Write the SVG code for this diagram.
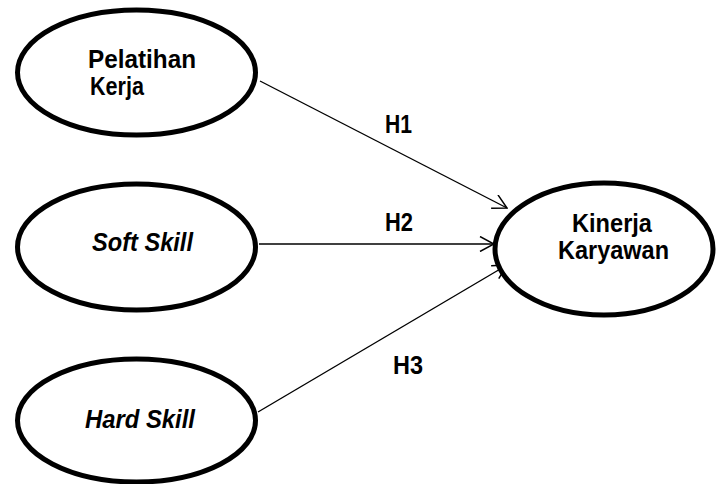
<svg xmlns="http://www.w3.org/2000/svg" width="716" height="484" viewBox="0 0 716 484">
  <style>
    .node ellipse { fill: #ffffff; stroke: #000000; stroke-width: 5; }
    .lbl { font-family: "Liberation Sans", Arial, sans-serif; font-weight: bold; font-size: 25px; fill: #000000; }
    .it { font-style: italic; }
    .edge { stroke: #000000; stroke-width: 1.4; fill: none; }
    .elbl { font-family: "Liberation Sans", Arial, sans-serif; font-weight: bold; font-size: 25px; fill: #000000; }
  </style>
  <defs>
    <marker id="arrow" viewBox="0 0 16 16" refX="15" refY="8" markerWidth="16" markerHeight="16" markerUnits="userSpaceOnUse" orient="auto">
      <path d="M1,0.5 L15,8 L1,15.5" fill="none" stroke="#000000" stroke-width="1.5"/>
    </marker>
  </defs>
  <rect width="716" height="484" fill="#ffffff"/>
  <g id="connectors">
    <line class="edge" x1="260" y1="81" x2="507" y2="208" marker-end="url(#arrow)"/>
    <line class="edge" x1="259" y1="244" x2="494" y2="244" marker-end="url(#arrow)"/>
    <line class="edge" x1="258" y1="412" x2="507" y2="265" marker-end="url(#arrow)"/>
    <text class="elbl" x="385" y="133" textLength="27" lengthAdjust="spacingAndGlyphs">H1</text>
    <text class="elbl" x="385" y="231" textLength="28" lengthAdjust="spacingAndGlyphs">H2</text>
    <text class="elbl" x="393" y="374" textLength="30" lengthAdjust="spacingAndGlyphs">H3</text>
  </g>
  <g id="pelatihan-kerja" class="node">
    <ellipse cx="136.5" cy="72.5" rx="119" ry="62.5"/>
    <text class="lbl" x="88" y="68" textLength="108" lengthAdjust="spacingAndGlyphs">Pelatihan</text>
    <text class="lbl" x="90" y="95" textLength="54" lengthAdjust="spacingAndGlyphs">Kerja</text>
  </g>
  <g id="soft-skill" class="node">
    <ellipse cx="136.5" cy="247" rx="119" ry="63"/>
    <text class="lbl it" x="92" y="251" textLength="101" lengthAdjust="spacingAndGlyphs">Soft Skill</text>
  </g>
  <g id="hard-skill" class="node">
    <ellipse cx="136.5" cy="420.5" rx="119" ry="61.5"/>
    <text class="lbl it" x="85" y="428" textLength="110" lengthAdjust="spacingAndGlyphs">Hard Skill</text>
  </g>
  <g id="kinerja-karyawan" class="node">
    <ellipse cx="604" cy="249" rx="109" ry="66"/>
    <text class="lbl" x="572" y="232" textLength="80" lengthAdjust="spacingAndGlyphs">Kinerja</text>
    <text class="lbl" x="558" y="259" textLength="111" lengthAdjust="spacingAndGlyphs">Karyawan</text>
  </g>
</svg>
